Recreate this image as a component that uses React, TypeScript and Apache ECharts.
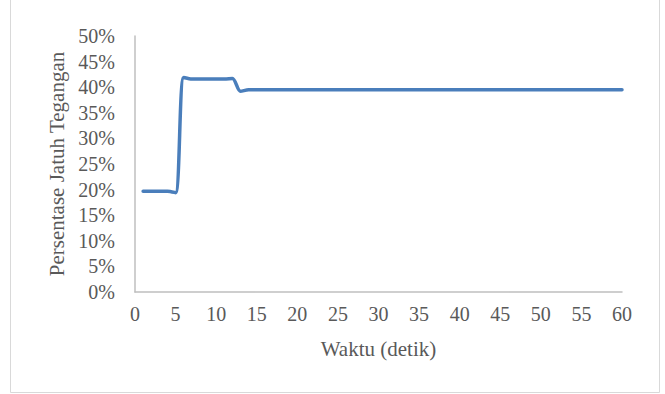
import React, { useEffect, useRef } from "react";
import * as echarts from "echarts";

// Time in seconds
const seconds: number[] = Array.from({ length: 60 }, (_, i) => i + 1);

// Voltage drop percentage at each second
const dropPercent: number[] = [
  19.7, 19.7, 19.7, 19.7, 19.4, 41.9, 41.6, 41.6, 41.6, 41.6,
  41.6, 41.7, 39.2, 39.5, 39.5, 39.5, 39.5, 39.5, 39.5, 39.5,
  39.5, 39.5, 39.5, 39.5, 39.5, 39.5, 39.5, 39.5, 39.5, 39.5,
  39.5, 39.5, 39.5, 39.5, 39.5, 39.5, 39.5, 39.5, 39.5, 39.5,
  39.5, 39.5, 39.5, 39.5, 39.5, 39.5, 39.5, 39.5, 39.5, 39.5,
  39.5, 39.5, 39.5, 39.5, 39.5, 39.5, 39.5, 39.5, 39.5, 39.5,
];

const xTitle = "Waktu (detik)";
const yTitle = "Persentase Jatuh Tegangan";

const FONT = "'Liberation Serif', 'Times New Roman', serif";
const TEXT = "#595959";
const AXIS = "#BFBFBF";

export default function App() {
  const ref = useRef<HTMLDivElement>(null);

  useEffect(() => {
    if (!ref.current) return;
    const chart = echarts.init(ref.current, undefined, { renderer: "svg" });
    chart.setOption({
      animation: false,
      backgroundColor: "#ffffff",
      textStyle: { fontFamily: FONT },
      grid: { left: 135, right: 43, top: 36, bottom: 102 },
      graphic: [
        {
          type: "rect",
          shape: { x: 10.5, y: -5, width: 649, height: 397.5 },
          style: { fill: "none", stroke: "#D9D9D9", lineWidth: 1 },
          silent: true,
        },
      ],
      xAxis: {
        type: "value",
        min: 0,
        max: 60,
        interval: 5,
        name: xTitle,
        nameLocation: "middle",
        nameGap: 46,
        nameTextStyle: { fontFamily: FONT, fontSize: 21, color: TEXT },
        axisLine: { show: true, lineStyle: { color: AXIS, width: 1.5 } },
        axisTick: { show: false },
        splitLine: { show: false },
        axisLabel: { fontFamily: FONT, fontSize: 20, color: TEXT, margin: 12 },
      },
      yAxis: {
        type: "value",
        min: 0,
        max: 50,
        interval: 5,
        name: yTitle,
        nameLocation: "middle",
        nameRotate: 90,
        nameGap: 66,
        nameTextStyle: { fontFamily: FONT, fontSize: 21, color: TEXT },
        axisLine: { show: true, lineStyle: { color: AXIS, width: 1.5 } },
        axisTick: { show: false },
        splitLine: { show: false },
        axisLabel: {
          fontFamily: FONT,
          fontSize: 20,
          color: TEXT,
          margin: 20,
          formatter: "{value}%",
        },
      },
      series: [
        {
          type: "line",
          data: seconds.map((s, i) => [s, dropPercent[i]]),
          smooth: 0.3,
          showSymbol: false,
          lineStyle: { color: "#4A7EBB", width: 3.5, cap: "round", join: "round" },
        },
      ],
    });
    return () => chart.dispose();
  }, []);

  return (
    <div
      ref={ref}
      style={{ position: "absolute", left: 0, top: 0, width: 665, height: 394 }}
    />
  );
}
